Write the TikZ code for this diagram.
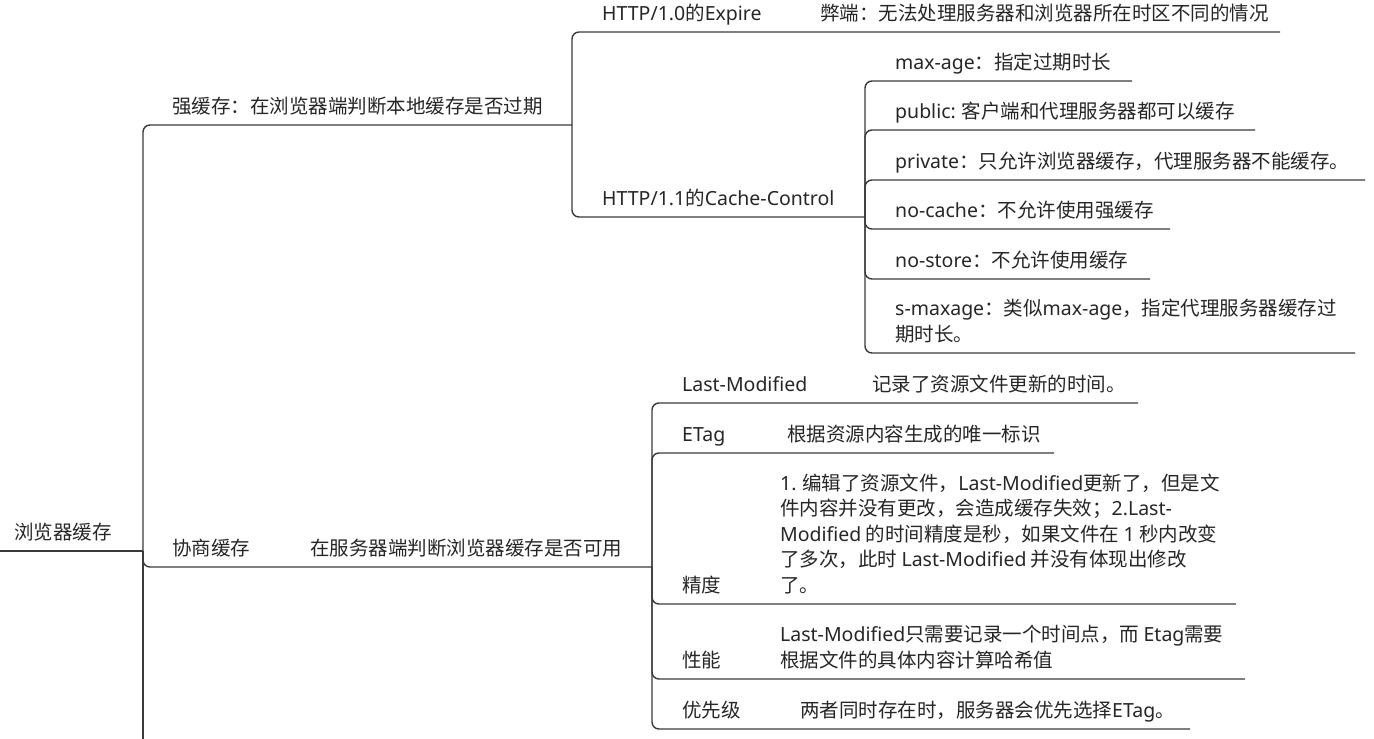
\documentclass[tikz,border=0pt]{standalone}
\usepackage{fontspec}
\setmainfont{Noto Sans CJK SC}
\newfontfamily\la{Noto Sans}
\definecolor{linec}{HTML}{3A3A3A}
\definecolor{textc}{HTML}{262626}
\tikzset{
  line/.style={draw=linec, line width=1.4pt},
  conn/.style={line, rounded corners=7pt},
  txt/.style={anchor=base west, inner sep=0pt, text=textc, font=\fontsize{19.5pt}{25.5pt}\selectfont},
  multi/.style={txt, align=left},
}
\begin{document}
\begin{tikzpicture}[x=1pt,y=-1pt]
\useasboundingbox (0,0) rectangle (1374,739);
% root
\node[txt] (root) at (14,539) {浏览器缓存};
\coordinate (rootL) at (0,551);
\coordinate (rootJ) at (143,551);
\coordinate (bottom) at (143,739);
\draw[line] (rootL) -- (rootJ);
\draw[line] (rootJ) -- (bottom);

% strong cache
\node[txt] (A) at (172,113) {强缓存：在浏览器端判断本地缓存是否过期};
\coordinate (AJ) at (572,125);
\draw[conn] (rootJ) |- (AJ);

\node[txt] (A1) at (602,20) {{\la HTTP/1.0}的{\la Expire}};
\node[txt] (A1d) at (820,20) {弊端：无法处理服务器和浏览器所在时区不同的情况};
\coordinate (A1E) at (1280,32);
\draw[conn] (AJ) |- (A1E);

\node[txt] (A2) at (602,205) {{\la HTTP/1.1}的{\la Cache-Control}};
\coordinate (A2J) at (865,217);
\draw[conn] (AJ) |- (A2J);

\node[txt] (C1) at (895,69) {{\la max-age}：指定过期时长};
\coordinate (C1E) at (1132,81);
\draw[conn] (A2J) |- (C1E);
\node[txt] (C2) at (895,118) {{\la public:} 客户端和代理服务器都可以缓存};
\coordinate (C2E) at (1255,130);
\draw[conn] (A2J) |- (C2E);
\node[txt] (C3) at (895,168) {{\la private}：只允许浏览器缓存，代理服务器不能缓存。};
\coordinate (C3E) at (1365,180);
\draw[conn] (A2J) |- (C3E);
\node[txt] (C4) at (895,217) {{\la no-cache}：不允许使用强缓存};
\coordinate (C4E) at (1170,229);
\draw[conn] (A2J) |- (C4E);
\node[txt] (C5) at (895,267) {{\la no-store}：不允许使用缓存};
\coordinate (C5E) at (1150,279);
\draw[conn] (A2J) |- (C5E);
\node[multi] (C6) at (895,341) {{\la s-maxage}：类似{\la max-age}，指定代理服务器缓存过\\期时长。};
\coordinate (C6E) at (1355,353);
\draw[conn] (A2J) |- (C6E);

% negotiated cache
\node[txt] (B) at (172,555) {协商缓存};
\node[txt] (Bd) at (310,555) {在服务器端判断浏览器缓存是否可用};
\coordinate (BJ) at (652,567);
\draw[conn] (rootJ) |- (BJ);

\node[txt] (B1) at (682,391) {{\la Last-Modified}};
\node[txt] (B1d) at (872,391) {记录了资源文件更新的时间。};
\coordinate (B1E) at (1138,403);
\draw[conn] (BJ) |- (B1E);

\node[txt] (B2) at (682,441) {{\la ETag}};
\node[txt] (B2d) at (787,441) {根据资源内容生成的唯一标识};
\coordinate (B2E) at (1054,453);
\draw[conn] (BJ) |- (B2E);

\node[txt] (B3) at (682,592) {精度};
\node[multi] (B3d) at (780,592) {{\la 1.} 编辑了资源文件，{\la Last-Modified}更新了，但是文\\件内容并没有更改，会造成缓存失效；{\la 2.Last-}\\{\la Modified} 的时间精度是秒，如果文件在 {\la 1} 秒内改变\\了多次，此时 {\la Last-Modified} 并没有体现出修改\\了。};
\coordinate (B3E) at (1236,604);
\draw[conn] (BJ) |- (B3E);

\node[txt] (B4) at (682,667) {性能};
\node[multi] (B4d) at (780,667) {{\la Last-Modified}只需要记录一个时间点，而 {\la Etag}需要\\根据文件的具体内容计算哈希值};
\coordinate (B4E) at (1245,679);
\draw[conn] (BJ) |- (B4E);

\node[txt] (B5) at (682,717) {优先级};
\node[txt] (B5d) at (800,717) {两者同时存在时，服务器会优先选择{\la ETag}。};
\coordinate (B5E) at (1190,729);
\draw[conn] (BJ) |- (B5E);
\end{tikzpicture}
\end{document}
